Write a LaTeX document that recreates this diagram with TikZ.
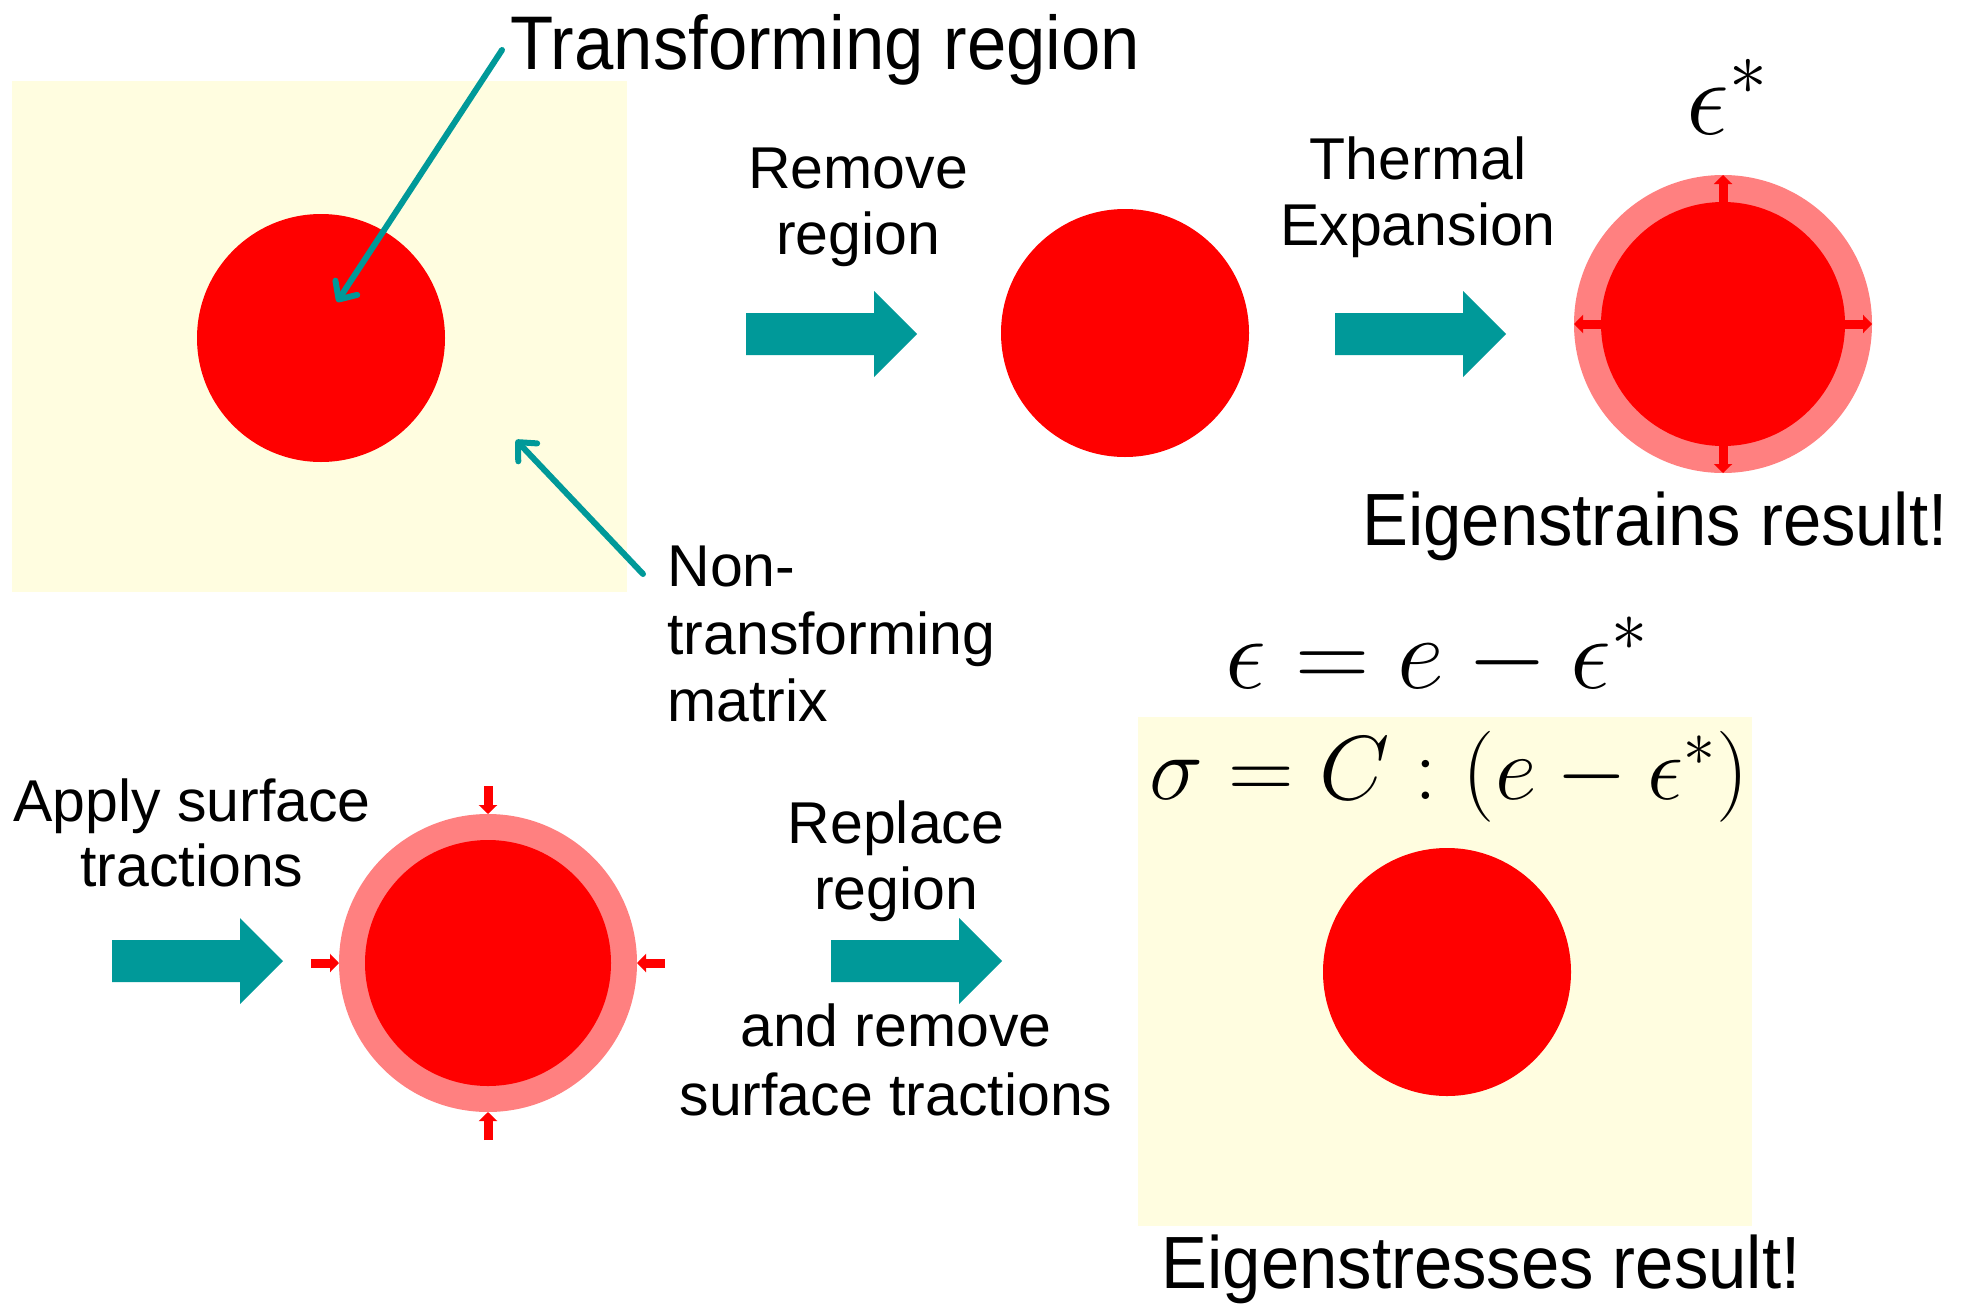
\RequirePackage{fix-cm}
\documentclass[tikz,border=0pt]{standalone}
\usepackage[no-math]{fontspec}
\setmainfont{Liberation Sans}
\newfontfamily\titlefont[FakeStretch=0.93]{Liberation Sans}
\usetikzlibrary{arrows.meta,calc}
\definecolor{tealA}{RGB}{0,153,153}
\definecolor{incl}{RGB}{255,0,0}
\definecolor{halo}{RGB}{255,128,128}
\definecolor{matrixbg}{RGB}{255,253,224}
\tikzset{
  title/.style={inner sep=0pt, font=\titlefont\fontsize{37}{43}\selectfont},
  lab/.style={inner sep=0pt, font=\fontsize{29.5}{35}\selectfont},
  pointer/.style={draw=tealA, line width=3pt, line cap=round,
    -{Straight Barb[length=7pt,width=13pt,round]}},
  tract/.style={draw=incl, line width=4.5pt, -{Triangle[length=4.5pt,width=9pt]}},
  blockarrow/.pic={\fill[tealA] (0,-21) -- (128,-21) -- (128,-43) -- (171,0)
     -- (128,43) -- (128,21) -- (0,21) -- cycle;}
}
\begin{document}
\begin{tikzpicture}[x=0.5pt,y=-0.5pt]
\useasboundingbox (0,0) rectangle (1965,1306);
% backgrounds
\fill[matrixbg] (12,81) rectangle (627,592);
\fill[matrixbg] (1138,717) rectangle (1752,1226);
% centres
\coordinate (c1) at (321,338);
\coordinate (c2) at (1125,333);
\coordinate (c3) at (1723,324);
\coordinate (c4) at (488,963);
\coordinate (c5) at (1447,972);
% inclusions
\fill[incl] (c1) circle[radius=124];
\fill[incl] (c2) circle[radius=124];
\fill[halo] (c3) circle[radius=149];
\fill[incl] (c3) circle[radius=122];
\fill[halo] (c4) circle[radius=149];
\fill[incl] (c4) circle[radius=123];
\fill[incl] (c5) circle[radius=124];
% traction arrows
\foreach \a in {0,90,180,270}{
  \draw[tract] ($(c3)+(\a:122)$) -- ($(c3)+(\a:149)$);
  \draw[tract] ($(c4)+(\a:177)$) -- ($(c4)+(\a:149)$);
}
% block arrows
\pic at (746,334) {blockarrow};
\pic at (1335,334) {blockarrow};
\pic at (112,961) {blockarrow};
\pic at (831,961) {blockarrow};
% texts
\node[title,font=\titlefont\fontsize{38}{44}\selectfont,anchor=base west] (trlab) at (510,69) {Transforming region};
\node[lab,anchor=base] (rem1) at (858,188) {Remove};
\node[lab,anchor=base] (rem2) at (858,254) {region};
\node[lab,anchor=base] (th1) at (1418,179) {Thermal};
\node[lab,anchor=base] (th2) at (1418,245) {Expansion};
\node[inner sep=0pt,anchor=base west,font=\fontsize{54}{60}\selectfont] (estar) at (1686,134) {$\epsilon^*$};
\node[title,anchor=base] (estrain) at (1655,545) {Eigenstrains result!};
\node[lab,anchor=base west] (nt1) at (667,586) {Non-};
\node[lab,anchor=base west] (nt2) at (667,654) {transforming};
\node[lab,anchor=base west] (nt3) at (667,721) {matrix};
\node[inner sep=0pt,anchor=base,font=\fontsize{51.5}{60}\selectfont] (eq1) at (1437,688) {$\epsilon = e - \epsilon^*$};
\node[inner sep=0pt,anchor=base,font=\fontsize{45.5}{52}\selectfont] (eq2) at (1449,799) {$\sigma = C : (e - \epsilon^*)$};
\node[title,anchor=base] (estress) at (1481,1288) {Eigenstresses result!};
\node[lab,anchor=base] (ap1) at (192,821) {Apply surface};
\node[lab,anchor=base] (ap2) at (192,886) {tractions};
\node[lab,anchor=base] (rp1) at (896,843) {Replace};
\node[lab,anchor=base] (rp2) at (896,909) {region};
\node[lab,anchor=base] (rs1) at (896,1046) {and remove};
\node[lab,anchor=base] (rs2) at (896,1115) {surface tractions};
% pointers
\coordinate (p1s) at (502,50);
\coordinate (p1e) at (337,302);
\coordinate (p2s) at (643,574);
\coordinate (p2e) at (516,440);
\draw[pointer] (p1s) -- (p1e);
\draw[pointer] (p2s) -- (p2e);
\end{tikzpicture}
\end{document}
